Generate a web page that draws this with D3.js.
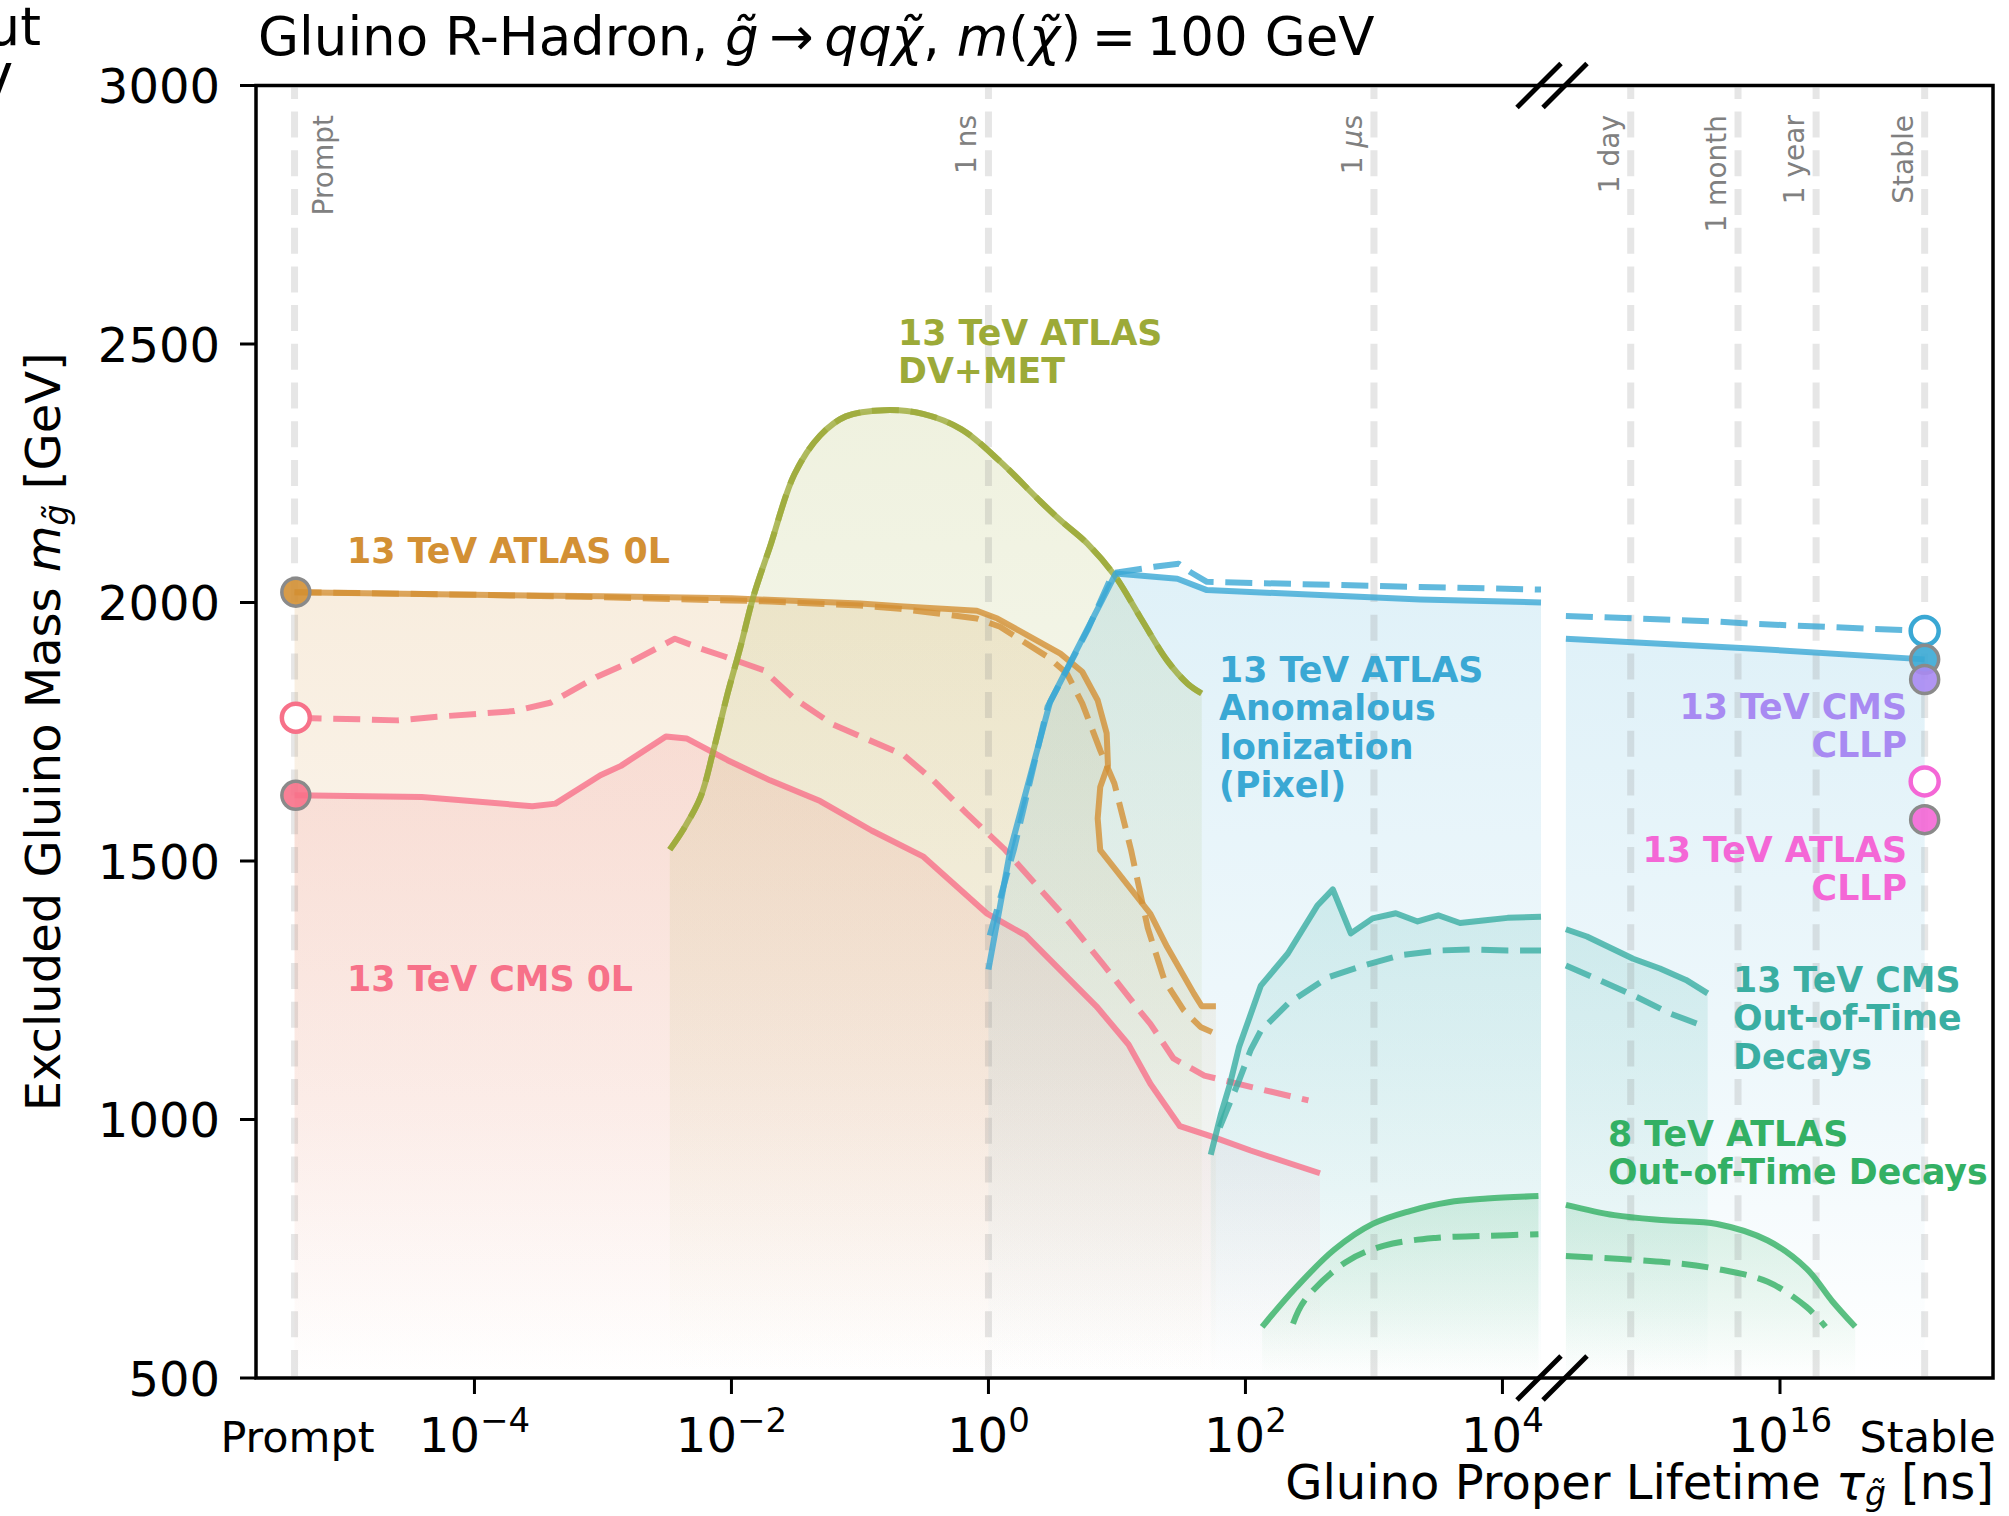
<!DOCTYPE html>
<html>
<head>
<meta charset="utf-8">
<script src="https://cdn.jsdelivr.net/npm/d3@7"></script>
<style>
  html, body { margin: 0; padding: 0; background: #fff; }
  svg { display: block; font-family: "DejaVu Sans", sans-serif; }
</style>
</head>
<body>
<svg id="chart" width="2009" height="1516"></svg>
<script>
// ---------------- data (lifetime as log10(tau / ns), mass in GeV) ----------------
const PROMPT_LOG = -5.4;   // where "prompt" sits on the lifetime axis
const STABLE_LOG = 18;     // where "stable" sits on the lifetime axis

const massTicks = [500, 1000, 1500, 2000, 2500, 3000];
const lifetimeTickExps = [-4, -2, 0, 2, 4, 16];

const cms0LObserved = [[-5.4,1627],[-4.41,1624],[-3.55,1606],[-3.37,1611],[-3.02,1666],[-2.86,1684],
  [-2.51,1741],[-2.35,1737],[-2.03,1695],[-1.70,1656],[-1.31,1616],[-0.91,1559],[-0.51,1509],
  [-0.01,1398],[0.29,1356],[0.59,1281],[0.84,1219],[1.09,1145],[1.26,1069],[1.49,987],
  [1.74,967],[2.04,940],[2.58,896]];
const cms0LExpected = [[-5.4,1777],[-4.89,1774],[-4.6,1772],[-4.29,1779],[-3.69,1790],[-3.41,1806],
  [-3.05,1856],[-2.76,1888],[-2.44,1930],[-2.24,1911],[-2.06,1896],[-1.75,1869],[-1.51,1814],
  [-1.21,1764],[-0.66,1705],[-0.43,1656],[-0.17,1592],[0.12,1524],[0.59,1393],[0.89,1301],
  [1.19,1206],[1.26,1185],[1.44,1118],[1.68,1085],[2.04,1063],[2.49,1037]];

const atlas0LObserved = [[-5.4,2020],[-4,2015],[-3,2012],[-2,2008],[-1,1998],[-0.69,1993],
  [-0.09,1984],[0.07,1969],[0.35,1930],[0.56,1901],[0.73,1866],[0.85,1811],[0.92,1747],
  [0.93,1685],[0.87,1643],[0.85,1582],[0.87,1521],[1.26,1398],[1.39,1334],[1.6,1243],
  [1.66,1219],[1.77,1219]];
const atlas0LExpected = [[-5.4,2020],[-4,2015],[-3,2010],[-2,2004],[-1.7,2002],[-1,1994],
  [-0.69,1988],[-0.09,1969],[0.09,1953],[0.46,1895],[0.61,1863],[0.73,1805],[0.87,1714],
  [0.98,1650],[1.11,1521],[1.24,1370],[1.37,1269],[1.52,1211],[1.65,1179],[1.74,1169]];

const dvMetObserved = [[-2.48,1522],[-2.37,1563],[-2.24,1624],[-2.14,1714],[-2.03,1824],
  [-1.93,1914],[-1.83,2011],[-1.70,2108],[-1.51,2248],[-1.31,2323],[-1.11,2360],[-0.81,2372],
  [-0.51,2365],[-0.21,2335],[0.09,2273],[0.39,2199],[0.56,2159],[0.77,2114],[0.98,2053],
  [1.18,1972],[1.39,1888],[1.55,1843],[1.66,1824]];
// expected limit coincides with the observed one for this search
const dvMetExpected = dvMetObserved;

const pixelObserved = [[0,1290],[0.17,1521],[0.48,1808],[0.99,2056],[1.47,2046],[1.70,2024],
  [3.36,2006],[4.30,2000],[13.04,1930],[15.59,1911],[18,1890]];
const pixelExpected = [[0.01,1356],[0.2,1524],[0.46,1798],[0.77,1946],[0.97,2057],[1.29,2069],
  [1.48,2075],[1.57,2059],[1.70,2040],[3.36,2030],[4.30,2025],[13.04,1974],[15.17,1963],
  [15.59,1959],[17.8,1946]];

const cmsOOTObserved = [[1.73,932],[1.81,1011],[1.88,1069],[1.95,1140],[2.12,1259],[2.33,1321],
  [2.56,1414],[2.68,1445],[2.82,1360],[2.99,1389],[3.17,1399],[3.34,1383],[3.50,1395],
  [3.67,1380],[3.85,1385],[4.04,1390],[4.30,1392],[13.04,1368],[13.33,1354],[13.97,1311],
  [14.34,1292],[14.7,1270],[15.0,1244]];
const cmsOOTExpected = [[1.80,985],[1.94,1069],[2.04,1134],[2.12,1172],[2.33,1224],[2.64,1275],
  [2.92,1298],[3.21,1318],[3.52,1327],[3.75,1329],[4.04,1327],[4.30,1327],[13.04,1298],
  [13.51,1269],[14.02,1237],[14.48,1205],[14.92,1182]];

const atlas8OOTObserved = [[2.13,599],[2.39,674],[2.69,748],[2.99,798],[3.28,823],[3.58,840],
  [3.88,847],[4.28,852],[13.04,835],[13.71,815],[14.42,805],[15.13,798],[15.83,766],
  [16.37,711],[16.72,649],[17.04,599]];
const atlas8OOTExpected = [[2.37,605],[2.46,650],[2.78,724],[3.08,756],[3.48,771],[3.88,775],
  [4.28,778],[13.04,736],[14.42,724],[15.13,711],[15.83,686],[16.37,637],[16.63,599]];

// single-point limits at the prompt and stable ends
const promptPoints = [
  {mass: 2020, color: "#d39034", open: false},
  {mass: 1777, color: "#f77189", open: true},
  {mass: 1627, color: "#f77189", open: false}
];
const stablePoints = [
  {mass: 1945, color: "#3aa8d4", open: true},
  {mass: 1890, color: "#3aa8d4", open: false},
  {mass: 1851, color: "#a88af2", open: false},
  {mass: 1654, color: "#f467d6", open: true},
  {mass: 1580, color: "#f467d6", open: false}
];

const referenceLines = [
  {label: "Prompt", logTau: PROMPT_LOG},
  {label: "1 ns", logTau: 0},
  {label: "1 \u03bcs", logTau: 3},
  {label: "1 day", logTau: Math.log10(86400e9)},
  {label: "1 month", logTau: Math.log10(30.44 * 86400e9)},
  {label: "1 year", logTau: Math.log10(365.25 * 86400e9)},
  {label: "Stable", logTau: STABLE_LOG}
];

const series = [
  {id: "cms0l", color: "#f77189", obs: cms0LObserved, exp: cms0LExpected, smooth: false},
  {id: "atlas0l", color: "#d39034", obs: atlas0LObserved, exp: atlas0LExpected, smooth: false},
  {id: "dvmet", color: "#9caa38", obs: dvMetObserved, exp: dvMetExpected, smooth: true},
  {id: "pixel", color: "#3aa8d4", obs: pixelObserved, exp: pixelExpected, smooth: false},
  {id: "cmsoot", color: "#3aaea2", obs: cmsOOTObserved, exp: cmsOOTExpected, smooth: false},
  {id: "atlas8", color: "#33b064", obs: atlas8OOTObserved, exp: atlas8OOTExpected, smooth: true}
];

const labels = [
  {lines: ["13 TeV ATLAS 0L"], color: "#d39034", x: 347, y: 563, anchor: "start"},
  {lines: ["13 TeV CMS 0L"], color: "#f77189", x: 347, y: 991, anchor: "start"},
  {lines: ["13 TeV ATLAS", "DV+MET"], color: "#9caa38", x: 898, y: 345, anchor: "start"},
  {lines: ["13 TeV ATLAS", "Anomalous", "Ionization", "(Pixel)"], color: "#3aa8d4", x: 1219, y: 682, anchor: "start"},
  {lines: ["13 TeV CMS", "CLLP"], color: "#a88af2", x: 1907, y: 719, anchor: "end"},
  {lines: ["13 TeV ATLAS", "CLLP"], color: "#f467d6", x: 1907, y: 862, anchor: "end"},
  {lines: ["13 TeV CMS", "Out-of-Time", "Decays"], color: "#3aaea2", x: 1733, y: 992, anchor: "start"},
  {lines: ["8 TeV ATLAS", "Out-of-Time Decays"], color: "#33b064", x: 1608, y: 1146, anchor: "start"}
];

// ---------------- layout ----------------
const plot = {left: 256, right: 1993, top: 85.5, bottom: 1378};
const BREAK_X = 1552;

// broken lifetime axis: two log segments
const xLeft = d3.scaleLog().domain([10 ** -5.7, 10 ** 4.3]).range([plot.left, 1541]);
const xRight = d3.scaleLog().domain([1e13, 1e19]).range([1563, 1997]);
const x = lt => lt < 8 ? xLeft(10 ** lt) : xRight(10 ** lt);
const y = d3.scaleLinear().domain([500, 3000]).range([plot.bottom, plot.top]);

const svg = d3.select("#chart");
const defs = svg.append("defs");

function segments(pts) {
  return [pts.filter(p => p[0] < 8), pts.filter(p => p[0] >= 8)].filter(s => s.length > 1);
}

const makeLine = smooth => d3.line().x(d => x(d[0])).y(d => y(d[1]))
  .curve(smooth ? d3.curveCatmullRom.alpha(0.5) : d3.curveLinear);
const makeArea = smooth => d3.area().x(d => x(d[0])).y0(y(500)).y1(d => y(d[1]))
  .curve(smooth ? d3.curveCatmullRom.alpha(0.5) : d3.curveLinear);

// ---------------- fills ----------------
const fillLayer = svg.append("g");
series.forEach(s => {
  const g = defs.append("linearGradient").attr("id", "grad-" + s.id)
    .attr("x1", 0).attr("y1", 0).attr("x2", 0).attr("y2", 1);
  g.append("stop").attr("offset", 0).attr("stop-color", s.color).attr("stop-opacity", 0.16);
  g.append("stop").attr("offset", 0.6).attr("stop-color", s.color).attr("stop-opacity", 0.08);
  g.append("stop").attr("offset", 1).attr("stop-color", s.color).attr("stop-opacity", 0.0);
  const area = makeArea(s.smooth);
  segments(s.obs).forEach(seg => {
    fillLayer.append("path").attr("d", area(seg)).attr("fill", `url(#grad-${s.id})`);
  });
});

// ---------------- reference lifetimes ----------------
const refLayer = svg.append("g");
referenceLines.forEach(r => {
  const xx = x(r.logTau);
  refLayer.append("line")
    .attr("x1", xx).attr("x2", xx).attr("y1", plot.bottom - 2).attr("y2", plot.top + 2)
    .attr("stroke", "#808080").attr("stroke-opacity", 0.2).attr("stroke-width", 7)
    .attr("stroke-dasharray", "26,12.7");
  const tx = r.label === "Prompt" ? xx + 38 : xx - 12;
  const t = refLayer.append("text")
    .attr("transform", `translate(${tx},115) rotate(-90)`)
    .attr("text-anchor", "end").attr("font-size", 28).attr("fill", "#808080");
  if (r.label.includes("\u03bc")) {
    t.append("tspan").text("1 ");
    t.append("tspan").attr("font-style", "italic").text("\u03bc");
    t.append("tspan").text("s");
  } else {
    t.text(r.label);
  }
});

// ---------------- limit curves ----------------
const lineLayer = svg.append("g").attr("fill", "none").attr("stroke-linejoin", "round");
series.forEach(s => {
  const line = makeLine(s.smooth);
  segments(s.obs).forEach(seg => {
    lineLayer.append("path").attr("d", line(seg)).attr("stroke", s.color)
      .attr("stroke-width", 6).attr("stroke-opacity", 0.8);
  });
  segments(s.exp).forEach(seg => {
    lineLayer.append("path").attr("d", line(seg)).attr("stroke", s.color)
      .attr("stroke-width", 6).attr("stroke-opacity", 0.8)
      .attr("stroke-dasharray", "27,11.7");
  });
});

// ---------------- prompt / stable markers ----------------
const markerLayer = svg.append("g");
function drawMarkers(points, logTau) {
  points.forEach(p => {
    markerLayer.append("circle")
      .attr("cx", x(logTau)).attr("cy", y(p.mass)).attr("r", 14)
      .attr("fill", p.open ? "#fff" : p.color).attr("fill-opacity", p.open ? 1 : 0.9)
      .attr("stroke", p.open ? p.color : "#8a8a8a").attr("stroke-width", p.open ? 4.5 : 3.5);
  });
}
drawMarkers(promptPoints, PROMPT_LOG + 0.01);
drawMarkers(stablePoints, STABLE_LOG);

// ---------------- analysis labels ----------------
const labelLayer = svg.append("g").attr("font-weight", "bold").attr("font-size", 34.8);
labels.forEach(l => {
  const t = labelLayer.append("text").attr("fill", l.color).attr("text-anchor", l.anchor);
  l.lines.forEach((txt, i) => {
    t.append("tspan").attr("x", l.x).attr("y", l.y + i * 38.4).text(txt);
  });
});

// ---------------- axes ----------------
const axisLayer = svg.append("g").attr("stroke", "#000");
axisLayer.append("rect")
  .attr("x", plot.left).attr("y", plot.top)
  .attr("width", plot.right - plot.left).attr("height", plot.bottom - plot.top)
  .attr("fill", "none").attr("stroke-width", 3.5);

// mass ticks
const yTicks = svg.append("g");
massTicks.forEach(m => {
  yTicks.append("line").attr("x1", plot.left - 16).attr("x2", plot.left)
    .attr("y1", y(m)).attr("y2", y(m)).attr("stroke", "#000").attr("stroke-width", 3);
  yTicks.append("text").attr("x", 220).attr("y", y(m) + 17.5)
    .attr("text-anchor", "end").attr("font-size", 48).text(m);
});

// lifetime ticks
const xTicks = svg.append("g");
lifetimeTickExps.forEach(e => {
  const xx = x(e);
  xTicks.append("line").attr("x1", xx).attr("x2", xx)
    .attr("y1", plot.bottom).attr("y2", plot.bottom + 16)
    .attr("stroke", "#000").attr("stroke-width", 3);
  const t = xTicks.append("text").attr("x", xx).attr("y", 1452)
    .attr("text-anchor", "middle").attr("font-size", 48);
  t.append("tspan").text("10");
  t.append("tspan").attr("dy", -20).attr("font-size", 34)
    .text(e < 0 ? "\u2212" + Math.abs(e) : String(e));
});
[["Prompt", PROMPT_LOG], ["Stable", STABLE_LOG]].forEach(([txt, lt]) => {
  xTicks.append("text").attr("x", x(lt) + 3).attr("y", 1452)
    .attr("text-anchor", "middle").attr("font-size", 43).text(txt);
});

// axis break marks
[plot.top, plot.bottom].forEach(yy => {
  [BREAK_X - 13, BREAK_X + 13].forEach(cx => {
    svg.append("line").attr("x1", cx - 22).attr("y1", yy + 22)
      .attr("x2", cx + 22).attr("y2", yy - 22)
      .attr("stroke", "#000").attr("stroke-width", 5);
  });
});

// axis titles
const xl = svg.append("text").attr("x", 1994).attr("y", 1499)
  .attr("text-anchor", "end").attr("font-size", 48);
xl.append("tspan").text("Gluino Proper Lifetime ");
xl.append("tspan").attr("font-style", "italic").text("\u03c4");
xl.append("tspan").attr("font-style", "italic").attr("font-size", 33).attr("dy", 6).text("g\u0303");
xl.append("tspan").attr("dy", -6).text(" [ns]");

const yl = svg.append("text")
  .attr("transform", `translate(60,${(plot.top + plot.bottom) / 2}) rotate(-90)`)
  .attr("text-anchor", "middle").attr("font-size", 48);
yl.append("tspan").text("Excluded Gluino Mass ");
yl.append("tspan").attr("font-style", "italic").text("m");
yl.append("tspan").attr("font-style", "italic").attr("font-size", 33).attr("dy", 8).text("g\u0303");
yl.append("tspan").attr("dy", -8).text(" [GeV]");

// title
const title = svg.append("text").attr("x", 258).attr("y", 55).attr("font-size", 53);
title.append("tspan").text("Gluino R-Hadron, ");
title.append("tspan").attr("font-style", "italic").text("g\u0303");
title.append("tspan").text("\u2009\u2192\u2009");
title.append("tspan").attr("font-style", "italic").text("qq\u03c7\u0303");
title.append("tspan").text(", ");
title.append("tspan").attr("font-style", "italic").text("m");
title.append("tspan").text("(");
title.append("tspan").attr("font-style", "italic").text("\u03c7\u0303");
title.append("tspan").text(")\u2009=\u2009100 GeV");

// neighbouring panel text running in from the left edge
svg.append("text").attr("x", 41).attr("y", 45).attr("text-anchor", "end")
  .attr("font-size", 53).text("Cut");
svg.append("text").attr("x", 12).attr("y", 102).attr("text-anchor", "end")
  .attr("font-size", 53).text("GeV");
</script>
</body>
</html>
